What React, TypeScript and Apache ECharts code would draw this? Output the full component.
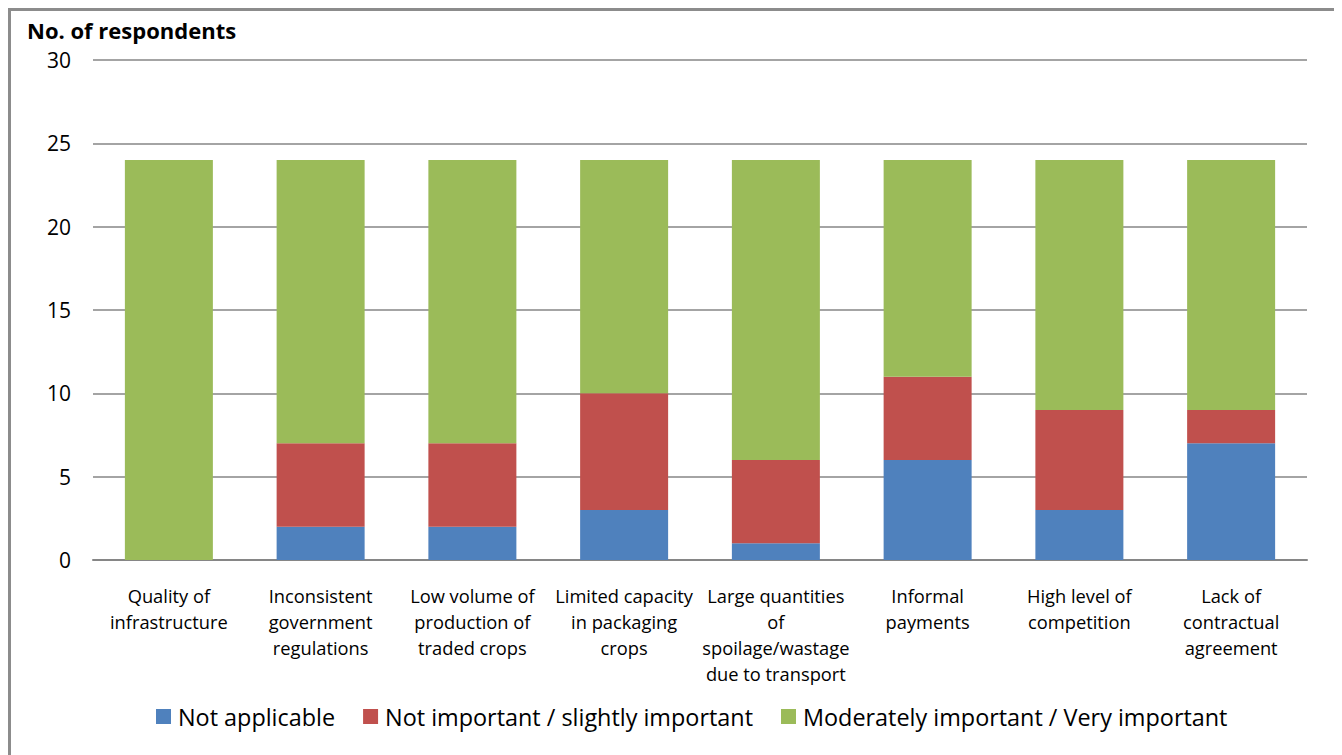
import React, { useEffect, useRef } from "react";
import * as echarts from "echarts";

const categories = [
  "Quality of\ninfrastructure",
  "Inconsistent\ngovernment\nregulations",
  "Low volume of\nproduction of\ntraded crops",
  "Limited capacity\nin packaging\ncrops",
  "Large quantities\nof\nspoilage/wastage\ndue to transport",
  "Informal\npayments",
  "High level of\ncompetition",
  "Lack of\ncontractual\nagreement",
];
const notApplicable = [0, 2, 2, 3, 1, 6, 3, 7];
const notImportant = [0, 5, 5, 7, 5, 5, 6, 2];
const important = [24, 17, 17, 14, 18, 13, 15, 15];
const seriesNames = [
  "Not applicable",
  "Not important / slightly important",
  "Moderately important / Very important",
];
const colors = ["#4F81BD", "#C0504D", "#9BBB59"];
const FONT = "'Open Sans', sans-serif";

export default function App() {
  const ref = useRef<HTMLDivElement>(null);
  useEffect(() => {
    if (!ref.current) return;
    const chart = echarts.init(ref.current, undefined, { renderer: "svg" });
    const data = [notApplicable, notImportant, important];
    chart.setOption({
      animation: false,
      textStyle: { fontFamily: FONT, color: "#000" },
      title: {
        text: "No. of respondents",
        left: 11,
        top: 3,
        textStyle: { fontFamily: FONT, fontSize: 22, fontWeight: "bold", color: "#000" },
      },
      grid: { left: 82, top: 49, width: 1214, height: 500, containLabel: false },
      legend: {
        data: seriesNames,
        top: 689,
        left: 140,
        itemWidth: 15,
        itemHeight: 15,
        itemGap: 28,
        icon: "rect",
        textStyle: { fontFamily: FONT, fontSize: 23.4, color: "#000", padding: [0, 0, 0, 2] },
      },
      xAxis: {
        type: "category",
        data: categories,
        axisLine: { show: true, lineStyle: { color: "#868686", width: 2 } },
        axisTick: { show: false },
        axisLabel: {
          interval: 0,
          fontFamily: FONT,
          fontSize: 18.3,
          lineHeight: 25.8,
          color: "#000",
          margin: 23,
        },
      },
      yAxis: {
        type: "value",
        min: 0,
        max: 30,
        interval: 5,
        axisLine: { show: false },
        axisTick: { show: false },
        splitLine: { lineStyle: { color: "#868686", width: 1.5 } },
        axisLabel: { fontFamily: FONT, fontSize: 21, color: "#000", margin: 22 },
      },
      series: seriesNames.map((name, i) => ({
        name,
        type: "bar",
        stack: "total",
        data: data[i],
        barWidth: 88,
        itemStyle: { color: colors[i] },
      })),
    });
    return () => chart.dispose();
  }, []);
  return (
    <div
      style={{
        position: "relative",
        width: 1330,
        height: 770,
        border: "3px solid #8c8c8c",
        boxSizing: "border-box",
        background: "#fff",
      }}
    >
      <div ref={ref} style={{ position: "absolute", left: 0, top: 0, width: 1324, height: 764 }} />
    </div>
  );
}
